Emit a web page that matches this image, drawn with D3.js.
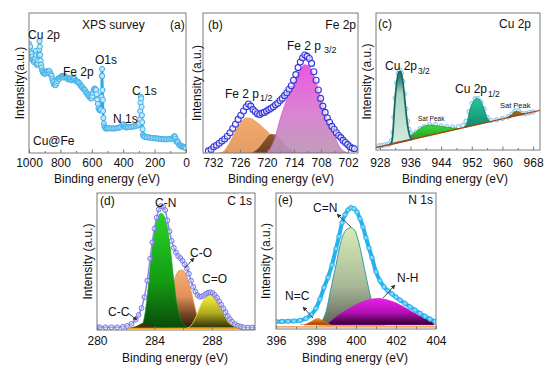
<!DOCTYPE html>
<html><head><meta charset="utf-8">
<script src="https://cdn.jsdelivr.net/npm/d3@7"></script>
<style>
body{margin:0;background:#fff;}
text{font-family:Arial,"Liberation Sans",Helvetica,sans-serif;fill:#111;}
</style></head><body>
<svg id="chart" width="550" height="370"></svg>
<script>
// ---------------- DATA ----------------
// (a) XPS survey: [binding energy eV, intensity a.u.]
const surveyData = [[1000,78],[998,71],[996,75],[994,70],[992,76],[989,72],[986,69],[983,71],[980,67],[977,69],[974,66],[971,67],[968,65],[965,67],[962,66],[959,68],[956,73],[954,70],[952,64],[950,63],[947,63],[944,64],[941,66],[938,70],[935,74],[933,80],[931,76],[929,70],[926,66],[923,63],[920,61],[916,59],[912,58],[908,57],[904,57.5],[900,56.5],[895,57],[890,58],[885,58.5],[880,58],[875,57],[870,58.5],[865,57],[860,56],[856,55],[852,53],[848,51.5],[844,50.5],[840,49],[835,48.5],[830,48.5],[825,50],[820,51.5],[815,53],[810,53.5],[805,53],[800,54],[795,54.5],[790,55],[785,54.5],[780,54],[775,55],[770,54.5],[765,54],[760,53.5],[755,53],[750,52.5],[745,53],[740,53.5],[735,53],[730,52],[725,52.5],[720,53],[715,53.5],[710,53],[705,52],[700,51.5],[695,51],[690,51],[685,50.5],[680,50],[675,49],[670,48],[665,47.5],[660,47],[655,46],[650,45.5],[645,45],[640,44],[635,43],[630,42.5],[625,41.5],[620,41],[615,40],[610,39.5],[605,39],[600,39],[596,40.5],[592,43],[588,45],[585,45.5],[581,46],[577,45.5],[573,45],[569,42],[565,38],[561,35],[557,32],[553,31],[549,30.5],[545,30.5],[541,31],[538,40],[536,55],[535,60],[534,55],[532,45],[530,38],[528,30],[526,25],[523,21],[520,19],[515,18],[510,17.5],[505,17.5],[500,17.5],[490,17.8],[480,17.5],[470,17.6],[460,17.5],[450,17.6],[440,17.8],[430,18],[420,18.3],[412,18.8],[405,19.8],[400,20.5],[395,20],[390,19],[385,18.5],[378,18.3],[370,18.4],[360,18.6],[350,18.7],[340,18.8],[330,19],[320,19.3],[310,19.6],[303,20],[298,21],[294,24],[291,30],[289,36],[287,40],[285,39],[283,33],[281,27],[279,22],[277,17],[274,13],[270,12],[265,11.8],[260,11.5],[250,11.2],[240,11.2],[230,11],[220,10.8],[210,10.6],[200,10.5],[190,10.5],[180,10.3],[170,10.2],[160,10],[150,10],[140,9.8],[130,9.8],[120,9.8],[110,9.9],[100,10],[90,10.2],[82,10.8],[78,11.5],[74,12],[70,11.5],[66,10],[62,8.5],[58,8],[54,8.3],[50,7.5],[45,6],[40,5.5],[35,5.2],[30,4.8],[25,4.5],[20,4.7],[15,4.3],[10,4],[5,3.8],[0,3.4]];
const surveyTicks = [1000,800,600,400,200,0];
const surveyMinor = [900,700,500,300,100];

// (b) Fe 2p
const fe2pData = [[733.0,1.5],[732.4,2.5],[731.8,4.5],[731.2,5.5],[730.6,7],[730.0,8.5],[729.4,10],[728.8,12],[728.2,14.5],[727.6,17.5],[727.0,20.5],[726.4,24],[725.8,27],[725.2,30],[724.6,33],[724.1,35],[723.6,33.5],[723.1,31],[722.6,29.5],[722.1,28],[721.6,27.5],[721.1,28.5],[720.6,29],[720.1,30],[719.6,31],[719.1,32],[718.6,33],[718.1,34.5],[717.6,35.5],[717.1,37.5],[716.6,39],[716.1,41],[715.6,43],[715.1,45.5],[714.6,48],[714.1,52],[713.6,56],[713.1,61],[712.6,65],[712.1,68],[711.6,70],[711.1,69],[710.6,67.5],[710.1,64],[709.6,58],[709.1,52],[708.6,45],[708.1,39],[707.6,33.5],[707.1,29],[706.6,25],[706.1,22],[705.6,19],[705.1,17],[704.6,14.5],[704.1,12.5],[703.6,11],[703.1,9],[702.6,7.5],[702.1,6],[701.6,4.5],[701.1,3.5],[700.6,3]];
const fe2p12Fit = [[730.5,0],[729.5,1.5],[728.5,6],[727.5,12],[726.5,18],[725.5,23],[724.5,25],[723.5,24.5],[722.5,22.5],[721.5,20],[720.5,17],[719.5,14],[718.5,11],[717.5,8],[716.5,5],[715.5,2.5],[714.5,0.8],[713.5,0]];
const fe2pSatFit = [[723.5,0],[722,3],[720.5,9],[719,13.5],[718,13],[717,10],[716,6],[715,3],[714,1],[713,0]];
const fe2p32Fit = [[720,0],[718.4,9.3],[716.9,26],[715.4,40],[713.9,52],[712.4,60.5],[711.7,63],[710.6,61.7],[709.5,54.5],[708.4,42.6],[707.3,30.7],[706.2,20],[705,11.7],[703.9,4.5],[702.8,1],[702,0]];
const fe2pTicks = [732,726,720,714,708,702];
const fe2pMinor = [729,723,717,711,705];

// (c) Cu 2p
const cu2pData = [[927.8,3],[928.5,3.2],[929.2,3.6],[930,4],[930.6,4.6],[931.1,7],[931.4,13],[931.7,24],[932.0,38],[932.4,49],[932.8,56],[933.2,58],[933.6,56],[934.0,50],[934.4,41],[934.8,30],[935.2,21],[935.6,15],[936.1,12],[936.7,11],[937.5,13],[938.5,15.5],[939.5,17],[941,18.5],[942.5,18.5],[944,17.5],[945.5,17],[947,16.8],[948.5,17],[949.7,18],[950.5,21],[951.3,28],[952.1,34],[952.9,37.5],[953.6,37.5],[954.4,35],[955.2,30],[956.0,24],[957,21.5],[958.5,22],[960,23],[961.5,24.2],[962.5,26.2],[963.3,28.5],[964.2,28.5],[965,26.8],[966,26.5],[967,27.2],[968,27.8]];
const cu2pBackground = [[927,1.8],[969.8,29]];
const cu2p32Fit = [[930.6,4.0],[931.0,5.0],[931.4,12],[931.8,30],[932.2,44],[932.6,53],[933.0,57],[933.3,57.3],[933.7,55],[934.1,48],[934.5,37],[934.9,26],[935.3,17],[935.7,11.5],[936.1,8.5],[936.5,8.0]];
const cuSat1Fit = [[934.5,6.6],[935.8,9.7],[937.5,13.4],[939.3,17],[941,18.2],[942.8,17.7],[944.5,17],[946.3,16.3],[948,15.8],[948.9,15.7]];
const cu2p12Fit = [[949.8,16.3],[950.7,19.5],[951.5,29.2],[952.4,35.3],[953.3,37.7],[954.1,36.5],[955,31.6],[955.9,24.3],[956.8,20.7]];
const cuSat2Fit = [[961.2,23.6],[962.4,25.8],[963.3,28],[964.2,28],[965,26.8],[965.9,26.6]];
const cu2pTicks = [928,936,944,952,960,968];
const cu2pMinor = [932,940,948,956,964];

// (d) C 1s
const c1sData = [[280.0,2],[280.2,2],[280.6,2],[281.0,2],[281.4,2],[281.8,2.3],[282.1,3],[282.4,4.5],[282.7,7.5],[282.9,11],[283.1,16],[283.3,24],[283.5,36],[283.7,52],[283.85,64],[284.0,74],[284.15,82],[284.3,88],[284.45,90.5],[284.6,90],[284.75,87.5],[284.9,80],[285.05,72],[285.2,65],[285.35,60],[285.5,56.5],[285.65,54],[285.8,52.5],[285.95,50.5],[286.1,48],[286.25,45],[286.4,41],[286.55,36],[286.7,31.5],[286.85,28],[287.0,25.5],[287.15,24.3],[287.3,24.5],[287.45,25.5],[287.6,26.5],[287.75,27.3],[287.9,27.5],[288.05,27],[288.2,25.5],[288.35,23.5],[288.5,21],[288.65,18.5],[288.8,15.8],[288.95,13],[289.1,10],[289.25,8],[289.4,6],[289.6,4.3],[289.8,3.2],[290.0,2.5],[290.2,2],[290.5,1.8],[290.8,1.8],[291.1,1.8]];
const c1sCC = [[282.2,1.5],[282.7,2.8],[283.2,5],[283.7,3],[284.2,1.8],[284.7,1.5]];
const c1sCN = [[282.9,1.5],[283.14,3.6],[283.36,13.4],[283.58,32.8],[283.8,57.2],[284.02,74.2],[284.25,82.7],[284.47,85.2],[284.69,82.7],[284.91,74.2],[285.13,57.2],[285.36,35.3],[285.58,18.2],[285.8,8.5],[286.09,3.6],[286.35,1.5]];
const c1sCO = [[284.5,1.5],[284.79,8.5],[285.01,18.2],[285.23,30],[285.46,38.7],[285.68,43],[285.9,43.8],[286.12,42.1],[286.34,36.5],[286.56,28],[286.78,18.2],[287.0,9.7],[287.23,4.9],[287.5,1.5]];
const c1sCdO = [[286.3,1.5],[286.57,3.6],[286.9,9.7],[287.24,18.2],[287.57,23.6],[287.86,25.5],[288.17,24.3],[288.46,19.5],[288.8,12.2],[289.12,6.1],[289.46,3.2],[289.8,1.5]];
const c1sTicks = [280,284,288];
const c1sMinor = [282,286,290];

// (e) N 1s
const n1sData = [[396.0,5.4],[396.3,5.5],[396.6,5.7],[396.9,5.9],[397.2,6.3],[397.5,7.8],[397.75,10.5],[398.0,15.2],[398.2,22],[398.4,30.5],[398.6,38],[398.8,47],[399.0,59],[399.15,68],[399.3,78],[399.45,84],[399.6,87.5],[399.75,89.2],[399.9,88.5],[400.05,86],[400.2,81],[400.35,75],[400.5,67],[400.65,59.5],[400.8,52.5],[401.0,42],[401.2,35.5],[401.4,31],[401.6,28],[401.8,25.8],[402.0,23.5],[402.2,21.3],[402.45,18.8],[402.7,16.3],[402.95,14],[403.2,11.5],[403.45,9.3],[403.7,7.3],[403.95,5.4]];
const n1sCdN = [[398.1,3],[398.5,12.7],[398.75,29.9],[399.0,47],[399.25,64.2],[399.5,72.8],[399.75,74.5],[399.97,71.5],[400.17,61.8],[400.42,44.6],[400.67,27.4],[400.84,17.6],[401.1,7.8],[401.43,3]];
const n1sNH = [[398.5,3],[399.0,9],[399.67,15.2],[400.34,20],[401.1,22.5],[401.85,20],[402.52,15.2],[403.1,10.3],[403.69,6.6],[403.9,5]];
const n1sNdC = [[397.4,3],[397.7,5],[398.08,7.8],[398.4,5.5],[398.75,3]];
const n1sTicks = [396,398,400,402,404];
const n1sMinor = [397,399,401,403];

// ---------------- DRAWING ----------------
const svg = d3.select('#chart');
const defs = svg.append('defs');
function vgrad(id, stops){
  const g = defs.append('linearGradient').attr('id',id).attr('x1',0).attr('y1',0).attr('x2',0).attr('y2',1);
  stops.forEach(s=>g.append('stop').attr('offset',s[0]).attr('stop-color',s[1]));
}
vgrad('gPink',[[0,'#ea4ade'],[0.55,'#d87bcf'],[1,'#b996b4']]);
vgrad('gOrB',[[0,'#f3aa6c'],[1,'#e49c64']]);
vgrad('gBrown',[[0,'#7d4a26'],[1,'#55301a']]);
vgrad('gCu32',[[0,'#1d6e64'],[0.12,'#3f8f82'],[0.3,'#a9d4c4'],[1,'#d3ebdf']]);
vgrad('gSat1',[[0,'#3fd83f'],[1,'#1b9a1b']]);
vgrad('gCu12',[[0,'#22c995'],[1,'#138872']]);
vgrad('gSat2',[[0,'#9a7416'],[1,'#6d5010']]);
vgrad('gCN',[[0,'#2ad42a'],[0.6,'#139a13'],[1,'#0a4a0a']]);
vgrad('gCO',[[0,'#f6ae70'],[0.45,'#e0925a'],[0.75,'#7a4a26'],[1,'#2a1a0a']]);
vgrad('gCdO',[[0,'#f6f240'],[0.55,'#b0aa20'],[1,'#2e2c06']]);
vgrad('gCNe',[[0,'#d8ecb4'],[0.6,'#a8b898'],[1,'#5e6458']]);
vgrad('gNH',[[0,'#ee1cee'],[0.55,'#b010b0'],[1,'#2a002a']]);
vgrad('gNC',[[0,'#f58a1c'],[1,'#9a4008']]);
defs.append('marker').attr('id','arr').attr('viewBox','0 0 10 10').attr('refX',9).attr('refY',5)
  .attr('markerWidth',5).attr('markerHeight',5).attr('orient','auto')
  .append('path').attr('d','M0,0L10,5L0,10z').attr('fill','#333');

function panel(c){
  const x = d3.scaleLinear().domain(c.xd).range([c.x0,c.x1]);
  const y = d3.scaleLinear().domain([0,100]).range([c.y1,c.y0]);
  const g = svg.append('g');
  defs.append('clipPath').attr('id','cl'+c.id).append('rect')
    .attr('x',c.x0).attr('y',c.y0).attr('width',c.x1-c.x0).attr('height',c.y1-c.y0);
  const plot = g.append('g').attr('clip-path','url(#cl'+c.id+')');
  g.append('g').attr('transform',`translate(0,${c.y1})`)
    .call(d3.axisBottom(x).tickValues(c.minor).tickSizeInner(-2).tickSizeOuter(0).tickFormat(''))
    .call(a=>a.select('.domain').remove())
    .selectAll('line').attr('stroke','#777');
  const ax = g.append('g').attr('transform',`translate(0,${c.y1})`)
    .call(d3.axisBottom(x).tickValues(c.ticks).tickSizeInner(-3.5).tickSizeOuter(0)
      .tickPadding(c.lab - c.y1 - 8.5).tickFormat(d3.format('d')))
    .call(a=>a.select('.domain').remove());
  ax.selectAll('line').attr('stroke','#777');
  ax.selectAll('text').attr('font-size',12).attr('font-family','Arial, Liberation Sans, sans-serif').attr('fill','#111');
  g.append('rect').attr('x',c.x0).attr('y',c.y0).attr('width',c.x1-c.x0).attr('height',c.y1-c.y0)
    .attr('fill','none').attr('stroke','#7a7a7a').attr('stroke-width',1);
  g.append('text').attr('x',c.tx).attr('y',c.ty).attr('text-anchor','middle').attr('font-size',12)
    .text('Binding energy (eV)');
  g.append('text').attr('transform',`translate(${c.yx},${(c.y0+c.y1)/2}) rotate(-90)`)
    .attr('text-anchor','middle').attr('dy','0.35em').attr('font-size',12).text(c.ytitle);
  return {g,plot,x,y};
}
function label(p, x, y, t, opt={}){
  return p.g.append('text').attr('x',x).attr('y',y).attr('font-size',opt.size||12)
    .attr('text-anchor',opt.anchor||'start').text(t);
}
function arrow(p, x1,y1,x2,y2){
  p.g.append('line').attr('x1',x1).attr('y1',y1).attr('x2',x2).attr('y2',y2)
    .attr('stroke','#333').attr('stroke-width',0.9).attr('marker-end','url(#arr)');
}
function comp(p, pts, base, fill, stroke, sw, op){
  const b = typeof base==='function'? base : ()=>base;
  p.plot.append('path').datum(pts)
    .attr('d', d3.area().x(d=>p.x(d[0])).y0(d=>p.y(b(d[0]))).y1(d=>p.y(d[1])).curve(d3.curveMonotoneX))
    .attr('fill',fill).attr('stroke',stroke||'none').attr('stroke-width',sw||1).attr('opacity',op||1);
}
function dots(p, pts, r, stroke, fill, sw){
  p.plot.append('g').selectAll('circle').data(pts).join('circle')
    .attr('cx',d=>p.x(d[0])).attr('cy',d=>p.y(d[1])).attr('r',r)
    .attr('stroke',stroke).attr('fill',fill).attr('stroke-width',sw||1);
}
function line(p, pts, stroke, w, curve){
  p.plot.append('path').datum(pts)
    .attr('d', d3.line().x(d=>p.x(d[0])).y(d=>p.y(d[1])).curve(curve||d3.curveLinear))
    .attr('fill','none').attr('stroke',stroke).attr('stroke-width',w);
}

// (a)
const pa = panel({id:'a',xd:[1000,0],x0:29,x1:186,y0:13,y1:153,ticks:surveyTicks,minor:surveyMinor,lab:167,tx:107,ty:183,yx:20,ytitle:'Intensity(a.u.)'});
line(pa, surveyData, '#2aa6e2', 2.5);
dots(pa, surveyData, 2.6, '#3fb0e8', '#c4e8f9', 1);
label(pa,82,29,'XPS survey'); label(pa,170,29,'(a)');
label(pa,28,39,'Cu 2p'); label(pa,63,76,'Fe 2p'); label(pa,95,64,'O1s');
label(pa,132,95,'C 1s'); label(pa,113,123,'N 1s'); label(pa,33,145,'Cu@Fe');

// (b)
const pb = panel({id:'b',xd:[734.2,699.8],x0:203,x1:358,y0:13,y1:153,ticks:fe2pTicks,minor:fe2pMinor,lab:167,tx:281,ty:183,yx:197,ytitle:'Intensity (a.u.)'});
comp(pb, fe2p12Fit, 0, 'url(#gOrB)', '#e8955a', 0.8);
comp(pb, fe2pSatFit, 0, 'url(#gBrown)', 'none', 1, 0.85);
comp(pb, fe2p32Fit, 0, 'url(#gPink)', '#d050c8', 0.8, 0.92);
dots(pb, fe2pData, 3, '#3535d8', 'rgba(235,240,255,0.6)', 1.1);
label(pb,208,29,'(b)'); label(pb,356,29,'Fe 2p',{anchor:'end'});
label(pb,287,50,'Fe 2 p'); label(pb,324,53,'3/2',{size:9});
label(pb,225,98,'Fe 2 p'); label(pb,260,101,'1/2',{size:9});

// (c)
const pc = panel({id:'c',xd:[927,969.8],x0:376,x1:540,y0:13,y1:150,ticks:cu2pTicks,minor:cu2pMinor,lab:167,tx:455,ty:183,yx:367,ytitle:'Intensity (a.u.)'});
const bg = d3.scaleLinear().domain(cu2pBackground.map(d=>d[0])).range(cu2pBackground.map(d=>d[1]));
dots(pc, cu2pData, 2.2, '#7cc4ec', '#e6f4fc', 1);
comp(pc, cuSat1Fit, bg, 'url(#gSat1)', '#1f9a1f', 0.8);
comp(pc, cu2p12Fit, bg, 'url(#gCu12)', '#14806a', 0.8);
comp(pc, cuSat2Fit, bg, 'url(#gSat2)', '#6a4e10', 0.8);
comp(pc, cu2p32Fit, bg, 'url(#gCu32)', '#1b6a60', 1.8);
line(pc, cu2pBackground, '#b04414', 1.3);
label(pc,378,28,'(c)'); label(pc,531,28,'Cu 2p',{anchor:'end'});
label(pc,385,70,'Cu 2p'); label(pc,418,74,'3/2',{size:8.5});
label(pc,455,93,'Cu 2p'); label(pc,488,97,'1/2',{size:8.5});
label(pc,418,121,'Sat Peak',{size:6.5}); label(pc,500,108,'Sat Peak',{size:7.5});

// (d)
const pd = panel({id:'d',xd:[280,291],x0:97,x1:255,y0:193,y1:330,ticks:c1sTicks,minor:c1sMinor,lab:345,tx:175,ty:362,yx:88,ytitle:'Intensity (a.u.)'});
comp(pd, c1sCO, 1.5, 'url(#gCO)', '#e8903c', 0.8);
comp(pd, c1sCN, 1.5, 'url(#gCN)', '#1a9a1a', 0.6);
comp(pd, c1sCdO, 1.5, 'url(#gCdO)', '#e0d21c', 1);
comp(pd, c1sCC, 1.5, '#4a3010', 'none');
line(pd, [[282.1,1.2],[289.9,1.2]], '#e6a818', 1.2);
line(pd, c1sData, '#8a8aec', 1.5, d3.curveMonotoneX);
dots(pd, c1sData, 2.4, '#7474e4', 'rgba(220,225,255,0.35)', 1);
label(pd,100,205,'(d)'); label(pd,252,205,'C 1s',{anchor:'end'});
label(pd,155,207,'C-N'); label(pd,190,257,'C-O'); label(pd,202,283,'C=O'); label(pd,108,316,'C-C');
arrow(pd,185,268,194,258);
arrow(pd,128,313,137,320);

// (e)
const pe = panel({id:'e',xd:[396,404],x0:276,x1:436,y0:193,y1:329,ticks:n1sTicks,minor:n1sMinor,lab:345,tx:355,ty:362,yx:266,ytitle:'Intensity (a.u.)'});
line(pe, [[396,1.5],[404,1.5]], '#f08a30', 1.3);
line(pe, [[397.2,3.3],[404,3.6]], '#b8b8b8', 1);
comp(pe, n1sCdN, 3, 'url(#gCNe)', '#3a9c9c', 1);
comp(pe, n1sNH, 3, 'url(#gNH)', '#cc10cc', 0.6);
comp(pe, n1sNdC, 3, 'url(#gNC)', '#e07010', 0.6);
line(pe, n1sData, '#22b2ee', 4, d3.curveMonotoneX);
dots(pe, n1sData, 2.2, '#22b2ee', '#8ed6f6', 1);
label(pe,278,204,'(e)'); label(pe,433,204,'N 1s',{anchor:'end'});
label(pe,313,212,'C=N'); label(pe,397,282,'N-H'); label(pe,285,300,'N=C');
arrow(pe,351,227,337,214);
arrow(pe,383,298,395,285);
arrow(pe,313,318,303,307);
</script>
</body></html>
